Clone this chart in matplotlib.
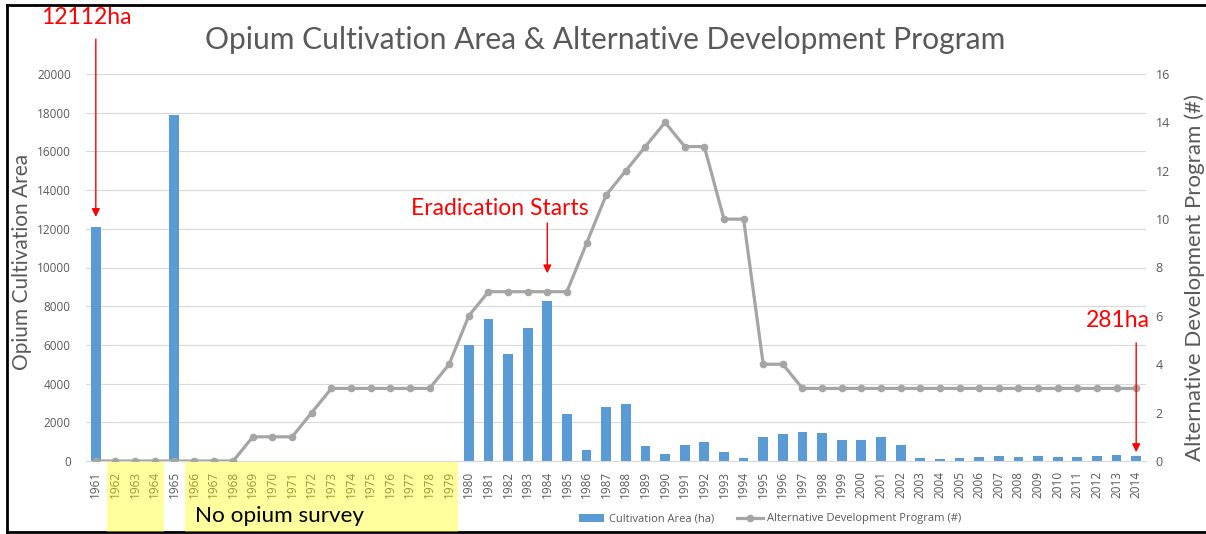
import matplotlib.pyplot as plt
import matplotlib.transforms as mtransforms
from matplotlib.lines import Line2D
from matplotlib.patches import Rectangle
import numpy as np

plt.rcParams["font.family"] = ["Lato", "DejaVu Sans"]

years = list(range(1961, 2015))

# cultivation area (ha), 0 where no survey was done
area = [
    12112, 0, 0, 0, 17900, 0, 0, 0, 0, 0,
    0, 0, 0, 0, 0, 0, 0, 0, 0, 6000,
    7340, 5510, 6890, 8290, 2410, 570, 2780, 2950, 780, 360,
    850, 980, 450, 140, 1260, 1400, 1480, 1430, 1070, 1060,
    1260, 810, 140, 90, 140, 220, 280, 190, 280, 220,
    190, 280, 330, 281,
]

# number of alternative development programs
programs = [
    0, 0, 0, 0, 0, 0, 0, 0, 1, 1,
    1, 2, 3, 3, 3, 3, 3, 3, 4, 6,
    7, 7, 7, 7, 7, 9, 11, 12, 13, 14,
    13, 13, 10, 10, 4, 4, 3, 3, 3, 3,
    3, 3, 3, 3, 3, 3, 3, 3, 3, 3,
    3, 3, 3, 3,
]

no_survey_spans = [(1962, 1964), (1966, 1979)]

BLUE = "#5B9BD5"
GREY_LINE = "#A5A5A5"
TEXT = "#595959"
GRID = "#D9D9D9"
SMALL = "Open Sans"

W, H = 1206, 534
fig = plt.figure(figsize=(W / 100, H / 100), dpi=100)
ax = fig.add_axes([86 / W, 1 - 461 / H, (1146 - 86) / W, (461 - 74) / H])
ax2 = ax.twinx()

x = np.arange(len(years))
bars = ax.bar(x, area, width=0.5, color=BLUE, label="Cultivation Area (ha)", zorder=2)
line, = ax2.plot(x, programs, color=GREY_LINE, lw=2.3, marker="o", ms=4.5,
                 label="Alternative Development Program (#)", zorder=3)

ax.set_xlim(-0.5, len(years) - 0.5)
ax.set_ylim(0, 20000)
ax.set_yticks(range(0, 20001, 2000))
ax2.set_ylim(0, 16)
ax2.set_yticks(range(0, 17, 2))
ax.set_xticks(x)
ax.set_xticklabels([str(y) for y in years], rotation=90)

ax.grid(axis="y", color=GRID, lw=0.8, zorder=0)
ax.set_axisbelow(True)
for a in (ax, ax2):
    for side in ("top", "left", "right"):
        a.spines[side].set_visible(False)
    a.spines["bottom"].set_color(GRID)
ax2.spines["bottom"].set_visible(False)
ax.tick_params(axis="y", length=0, pad=11, labelsize=8.5, labelcolor=TEXT, labelfontfamily=SMALL)
ax.tick_params(axis="x", length=0, pad=7, labelsize=8.5, labelcolor=TEXT, labelfontfamily=SMALL)
ax2.tick_params(axis="y", length=0, pad=7, labelsize=9, labelcolor=TEXT, labelfontfamily=SMALL)

ax.set_ylabel("Opium Cultivation Area", fontsize=15, color=TEXT)
ax.yaxis.set_label_coords(-0.051, 0.514)
ax2.set_ylabel("Alternative Development Program (#)", fontsize=16, color=TEXT, labelpad=10)
ax2.yaxis.label.set_y(0.475)
fig.text(605 / W, 1 - 40 / H, "Opium Cultivation Area & Alternative Development Program",
         ha="center", va="center", fontsize=21.6, color=TEXT)

# red annotations
red = "red"
arrow = dict(arrowstyle="-|>", color=red, lw=1.0, mutation_scale=12, shrinkA=0, shrinkB=0)
i61 = years.index(1961)
ax2.text(i61 - 0.5, 22900, "12112ha", transform=ax.transData, ha="center", va="center",
         fontsize=16.5, color=red, clip_on=False)
ax2.annotate("", xy=(i61, area[i61] + 500), xytext=(i61, 21800),
             xycoords=ax.transData, textcoords=ax.transData, arrowprops=arrow,
             annotation_clip=False)

i84 = years.index(1984)
ax2.text(i84 - 2.4, 13050, "Eradication Starts", transform=ax.transData, ha="center",
         va="center", fontsize=16.5, color=red)
ax2.annotate("", xy=(i84, 9700), xytext=(i84, 12300),
             xycoords=ax.transData, textcoords=ax.transData, arrowprops=arrow)

i14 = years.index(2014)
ax2.text(i14 + 0.7, 7280, "281ha", transform=ax.transData, ha="right", va="center",
         fontsize=16.5, color=red, clip_on=False)
ax2.annotate("", xy=(i14, area[i14] + 180), xytext=(i14, 6100),
             xycoords=ax.transData, textcoords=ax.transData, arrowprops=arrow)

# yellow "no survey" boxes over the tick labels
blend = mtransforms.blended_transform_factory(ax.transData, fig.transFigure)
for y0, y1 in no_survey_spans:
    a0 = years.index(y0) - 0.45
    a1 = years.index(y1) + 0.45
    fig.add_artist(Rectangle((a0, 2 / H), a1 - a0, 70 / H, transform=blend,
                             facecolor="#FFFF00", alpha=0.38, lw=0, zorder=5))
fig.text(195 / W, 1 - 516 / H, "No opium survey", ha="left", va="center",
         fontsize=16.2, color="black", zorder=6)

fig.legend(handles=[bars, line], loc="center", bbox_to_anchor=(770 / W, 1 - 519 / H),
           ncol=2, frameon=False, handlelength=2.3, handletextpad=0.4,
           columnspacing=2.1, labelcolor=TEXT, prop={"family": SMALL, "size": 8})

# black frame around the picture (no right edge, like the screenshot)
frame = dict(color="black", lw=2.0, transform=fig.transFigure)
fig.add_artist(Line2D([7 / W, 1], [1 - 5 / H, 1 - 5 / H], **frame))
fig.add_artist(Line2D([7 / W, 7 / W], [1 - 5 / H, 1 - 532 / H], **frame))
fig.add_artist(Line2D([7 / W, 1], [1 - 532 / H, 1 - 532 / H], **frame))

fig.savefig("out.png", dpi=100)
